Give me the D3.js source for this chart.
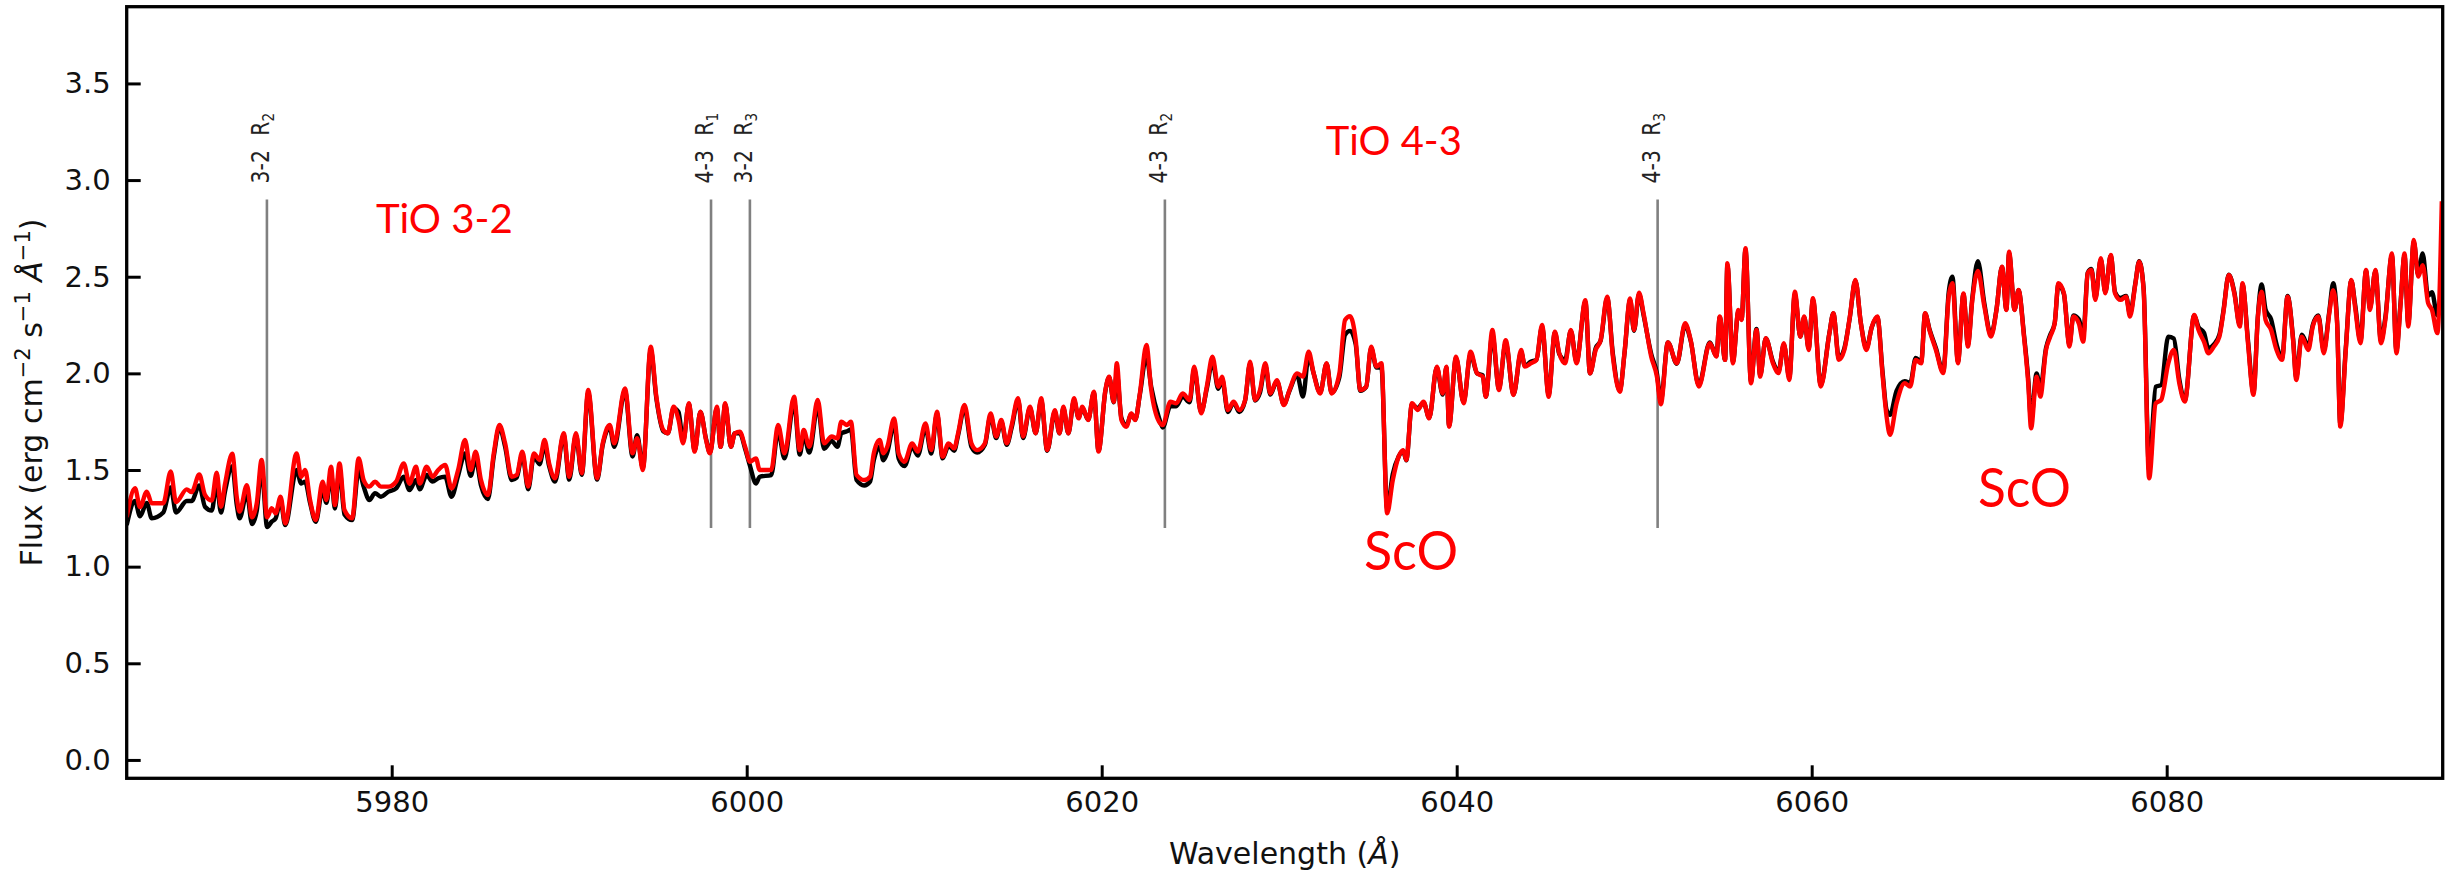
<!DOCTYPE html>
<html>
<head>
<meta charset="utf-8">
<script src="https://cdn.jsdelivr.net/npm/d3@7"></script>
<style>
  body { margin: 0; background: #ffffff; }
  svg { display: block; }
</style>
</head>
<body>
<div id="chart"></div>
<script>

// Spectrum at each local peak / dip (Angstrom)
const wavelength = [
  5965.07, 5965.54, 5965.82, 5966.20, 5966.48, 5967.13, 5967.55, 5967.85, 5968.45, 5968.73,
  5969.16, 5969.48, 5969.86, 5970.14, 5970.38, 5970.61, 5971.02, 5971.27, 5971.43, 5971.84,
  5972.13, 5972.40, 5972.67, 5972.98, 5973.24, 5973.46, 5973.74, 5974.00, 5974.64, 5974.90,
  5975.12, 5975.40, 5975.72, 5976.11, 5976.32, 5976.58, 5976.80, 5977.06, 5977.34, 5977.77,
  5978.14, 5978.42, 5978.74, 5979.06, 5979.39, 5979.82, 5980.25, 5980.68, 5981.00, 5981.37,
  5981.58, 5981.97, 5982.30, 5982.62, 5983.01, 5983.37, 5983.74, 5984.13, 5984.45, 5984.73,
  5985.03, 5985.42, 5985.75, 5986.07, 5986.39, 5986.76, 5987.04, 5987.36, 5987.69, 5988.01,
  5988.33, 5988.61, 5988.87, 5989.20, 5989.69, 5990.00, 5990.38, 5990.71, 5991.07, 5991.57,
  5991.89, 5992.28, 5992.54, 5993.14, 5993.57, 5993.83, 5994.15, 5994.59, 5994.91, 5995.30,
  5995.56, 5995.88, 5996.16, 5996.42, 5996.74, 5997.07, 5997.39, 5997.71, 5997.93, 5998.32,
  5998.53, 5998.79, 5999.11, 5999.33, 5999.61, 5999.91, 6000.19, 6000.52, 6000.73, 6001.38,
  6001.77, 6002.13, 6002.67, 6002.99, 6003.21, 6003.53, 6004.00, 6004.36, 6004.79, 6005.11,
  6005.33, 6005.65, 6005.87, 6006.19, 6006.62, 6006.95, 6007.16, 6007.49, 6007.70, 6007.92,
  6008.31, 6008.56, 6008.89, 6009.32, 6009.64, 6010.07, 6010.40, 6010.72, 6011.04, 6011.37,
  6011.69, 6011.91, 6012.27, 6012.66, 6012.98, 6013.42, 6013.74, 6014.06, 6014.34, 6014.65,
  6014.93, 6015.29, 6015.57, 6015.96, 6016.28, 6016.59, 6016.93, 6017.36, 6017.62, 6017.84,
  6018.12, 6018.44, 6018.70, 6018.91, 6019.24, 6019.56, 6019.82, 6020.21, 6020.42, 6020.68,
  6020.85, 6021.11, 6021.39, 6021.67, 6021.89, 6022.15, 6022.52, 6022.79, 6023.23, 6023.44,
  6023.87, 6024.20, 6024.56, 6024.95, 6025.21, 6025.60, 6025.92, 6026.24, 6026.57, 6026.78,
  6027.11, 6027.43, 6027.75, 6028.08, 6028.36, 6028.64, 6028.92, 6029.22, 6029.50, 6029.87,
  6030.26, 6030.58, 6031.01, 6031.34, 6031.66, 6031.94, 6032.31, 6032.67, 6032.95, 6033.39,
  6033.71, 6033.99, 6034.31, 6034.57, 6034.90, 6035.18, 6035.48, 6035.76, 6036.08, 6036.40,
  6036.73, 6036.99, 6037.16, 6037.48, 6037.81, 6038.13, 6038.45, 6038.88, 6039.21, 6039.42,
  6039.57, 6039.96, 6040.39, 6040.78, 6041.15, 6041.47, 6041.64, 6042.01, 6042.38, 6042.76,
  6043.20, 6043.63, 6043.84, 6044.17, 6044.49, 6044.81, 6045.18, 6045.53, 6045.78, 6046.11,
  6046.43, 6046.75, 6047.25, 6047.51, 6047.83, 6048.11, 6048.48, 6048.80, 6049.19, 6049.45,
  6049.77, 6049.99, 6050.27, 6050.53, 6050.96, 6051.28, 6051.50, 6051.90, 6052.40, 6052.87,
  6053.18, 6053.64, 6054.26, 6054.63, 6054.82, 6055.12, 6055.25, 6055.56, 6055.87, 6056.05,
  6056.27, 6056.58, 6056.89, 6057.10, 6057.41, 6057.82, 6058.13, 6058.43, 6058.74, 6059.05,
  6059.36, 6059.58, 6059.83, 6060.07, 6060.51, 6061.00, 6061.22, 6061.53, 6061.84, 6062.15,
  6062.46, 6062.77, 6063.08, 6063.39, 6063.70, 6064.00, 6064.22, 6064.41, 6064.78, 6065.24,
  6065.55, 6065.86, 6066.17, 6066.39, 6066.63, 6067.00, 6067.41, 6067.72, 6067.93, 6068.24,
  6068.55, 6068.80, 6069.05, 6069.36, 6069.73, 6070.10, 6070.41, 6070.72, 6070.97, 6071.12,
  6071.43, 6071.65, 6071.96, 6072.20, 6072.36, 6072.67, 6072.88, 6073.20, 6073.44, 6073.69,
  6073.90, 6074.21, 6074.52, 6074.74, 6075.05, 6075.30, 6075.55, 6075.76, 6075.98, 6076.29,
  6076.54, 6076.85, 6077.09, 6077.40, 6077.71, 6077.93, 6078.24, 6078.45, 6078.70, 6079.01,
  6079.38, 6079.69, 6080.09, 6080.40, 6080.71, 6081.02, 6081.55, 6081.79, 6082.10, 6082.35,
  6082.66, 6082.97, 6083.19, 6083.50, 6083.81, 6084.12, 6084.27, 6084.58, 6084.89, 6085.14,
  6085.35, 6085.57, 6085.88, 6086.19, 6086.50, 6086.81, 6087.12, 6087.30, 6087.61, 6087.98,
  6088.23, 6088.54, 6088.85, 6089.16, 6089.38, 6089.60, 6089.78, 6090.09, 6090.40, 6090.61,
  6090.92, 6091.23, 6091.45, 6091.76, 6092.07, 6092.32, 6092.69, 6092.94, 6093.18, 6093.40,
  6093.61, 6093.92, 6094.17, 6094.42, 6094.73, 6094.94, 6095.25, 6095.50
];

// Red spectrum (erg cm^-2 s^-1 A^-1)
const fluxRed = [
  1.256, 1.406, 1.308, 1.388, 1.328, 1.328, 1.492, 1.334, 1.400, 1.386,
  1.477, 1.371, 1.342, 1.486, 1.310, 1.428, 1.584, 1.360, 1.285, 1.422,
  1.255, 1.330, 1.552, 1.255, 1.302, 1.276, 1.362, 1.224, 1.586, 1.465,
  1.500, 1.345, 1.241, 1.440, 1.345, 1.517, 1.319, 1.534, 1.293, 1.250,
  1.560, 1.448, 1.414, 1.440, 1.414, 1.414, 1.440, 1.534, 1.430, 1.517,
  1.430, 1.517, 1.465, 1.500, 1.526, 1.405, 1.500, 1.655, 1.500, 1.595,
  1.448, 1.370, 1.586, 1.733, 1.638, 1.465, 1.474, 1.595, 1.414, 1.586,
  1.552, 1.655, 1.534, 1.457, 1.690, 1.465, 1.690, 1.483, 1.914, 1.457,
  1.638, 1.733, 1.638, 1.922, 1.586, 1.664, 1.500, 2.138, 1.879, 1.707,
  1.690, 1.827, 1.759, 1.638, 1.845, 1.595, 1.802, 1.655, 1.586, 1.827,
  1.620, 1.845, 1.620, 1.690, 1.698, 1.620, 1.543, 1.560, 1.500, 1.500,
  1.733, 1.586, 1.879, 1.603, 1.707, 1.620, 1.862, 1.638, 1.673, 1.664,
  1.750, 1.733, 1.750, 1.474, 1.448, 1.465, 1.586, 1.655, 1.586, 1.620,
  1.767, 1.586, 1.543, 1.638, 1.595, 1.741, 1.603, 1.802, 1.569, 1.638,
  1.612, 1.690, 1.836, 1.638, 1.603, 1.638, 1.793, 1.673, 1.759, 1.638,
  1.733, 1.871, 1.673, 1.827, 1.690, 1.871, 1.603, 1.810, 1.690, 1.827,
  1.690, 1.871, 1.767, 1.827, 1.759, 1.905, 1.595, 1.914, 1.983, 1.853,
  2.052, 1.759, 1.724, 1.793, 1.759, 1.896, 2.147, 1.914, 1.750, 1.733,
  1.853, 1.845, 1.896, 1.862, 2.035, 1.793, 1.931, 2.086, 1.931, 1.983,
  1.810, 1.853, 1.810, 1.862, 2.060, 1.862, 1.914, 2.052, 1.896, 1.965,
  1.836, 1.914, 2.000, 1.983, 2.112, 2.000, 1.896, 2.052, 1.896, 2.000,
  2.276, 2.296, 2.172, 1.914, 1.931, 2.138, 2.035, 2.052, 1.276, 1.448,
  1.569, 1.603, 1.552, 1.845, 1.810, 1.853, 1.767, 2.035, 1.896, 2.035,
  1.724, 2.086, 1.845, 2.112, 2.000, 1.983, 1.879, 2.224, 1.914, 2.172,
  1.888, 2.121, 2.035, 2.052, 2.069, 2.250, 1.879, 2.216, 2.103, 2.052,
  2.224, 2.052, 2.379, 2.000, 2.121, 2.172, 2.396, 2.086, 1.905, 2.103,
  2.388, 2.224, 2.417, 2.310, 2.086, 1.983, 1.840, 2.160, 2.052, 2.259,
  2.173, 1.932, 2.156, 2.087, 2.294, 2.070, 2.570, 2.052, 2.328, 2.276,
  2.647, 1.949, 2.225, 1.983, 2.182, 2.052, 2.001, 2.156, 1.966, 2.423,
  2.190, 2.294, 2.121, 2.389, 1.932, 2.208, 2.311, 2.070, 2.121, 2.294,
  2.483, 2.259, 2.121, 2.242, 2.294, 1.983, 1.776, 1.682, 1.845, 1.949,
  1.932, 2.070, 2.052, 2.311, 2.225, 2.121, 2.001, 2.397, 2.466, 2.052,
  2.414, 2.139, 2.380, 2.530, 2.345, 2.190, 2.328, 2.552, 2.328, 2.630,
  2.328, 2.432, 2.190, 1.949, 1.716, 1.983, 1.880, 2.121, 2.190, 2.259,
  2.466, 2.414, 2.139, 2.294, 2.259, 2.164, 2.518, 2.535, 2.380, 2.596,
  2.414, 2.613, 2.414, 2.380, 2.397, 2.294, 2.466, 2.578, 2.432, 1.457,
  1.845, 1.863, 2.052, 2.121, 1.949, 1.854, 2.302, 2.225, 2.164, 2.104,
  2.139, 2.190, 2.311, 2.509, 2.414, 2.242, 2.466, 2.156, 1.889, 2.294,
  2.423, 2.277, 2.225, 2.121, 2.070, 2.397, 2.173, 1.966, 2.190, 2.121,
  2.242, 2.294, 2.104, 2.311, 2.430, 2.259, 1.725, 2.121, 2.483, 2.345,
  2.156, 2.535, 2.328, 2.535, 2.156, 2.277, 2.621, 2.104, 2.363, 2.621,
  2.242, 2.690, 2.501, 2.560, 2.363, 2.330, 2.208, 2.890
];

// Black spectrum, same wavelength grid
const fluxBlack = [
  1.215, 1.340, 1.260, 1.330, 1.250, 1.280, 1.410, 1.280, 1.340, 1.340,
  1.420, 1.310, 1.290, 1.430, 1.280, 1.390, 1.520, 1.320, 1.250, 1.380,
  1.220, 1.290, 1.510, 1.205, 1.233, 1.250, 1.340, 1.215, 1.500, 1.430,
  1.440, 1.330, 1.232, 1.400, 1.330, 1.480, 1.300, 1.500, 1.270, 1.241,
  1.500, 1.414, 1.345, 1.380, 1.362, 1.388, 1.405, 1.465, 1.396, 1.448,
  1.400, 1.474, 1.440, 1.457, 1.465, 1.362, 1.470, 1.586, 1.470, 1.560,
  1.420, 1.350, 1.570, 1.720, 1.620, 1.448, 1.460, 1.580, 1.400, 1.570,
  1.530, 1.630, 1.520, 1.440, 1.680, 1.450, 1.680, 1.475, 1.900, 1.450,
  1.630, 1.720, 1.620, 1.910, 1.570, 1.680, 1.510, 2.120, 1.870, 1.700,
  1.690, 1.820, 1.800, 1.650, 1.840, 1.600, 1.800, 1.660, 1.590, 1.820,
  1.620, 1.840, 1.620, 1.690, 1.690, 1.610, 1.520, 1.430, 1.465, 1.474,
  1.700, 1.560, 1.850, 1.580, 1.680, 1.590, 1.830, 1.610, 1.650, 1.620,
  1.690, 1.700, 1.710, 1.448, 1.420, 1.440, 1.550, 1.620, 1.550, 1.590,
  1.740, 1.560, 1.520, 1.620, 1.575, 1.720, 1.585, 1.790, 1.560, 1.625,
  1.600, 1.680, 1.820, 1.620, 1.590, 1.630, 1.780, 1.665, 1.750, 1.630,
  1.720, 1.860, 1.665, 1.820, 1.690, 1.860, 1.600, 1.800, 1.690, 1.820,
  1.690, 1.860, 1.770, 1.820, 1.760, 1.900, 1.600, 1.910, 1.980, 1.850,
  2.000, 1.770, 1.730, 1.790, 1.760, 1.890, 2.090, 1.930, 1.770, 1.720,
  1.830, 1.830, 1.880, 1.850, 2.020, 1.800, 1.920, 2.060, 1.920, 1.970,
  1.800, 1.850, 1.800, 1.860, 2.050, 1.860, 1.900, 2.040, 1.890, 1.960,
  1.840, 1.910, 1.990, 1.880, 2.090, 2.000, 1.900, 2.050, 1.900, 1.980,
  2.200, 2.220, 2.150, 1.910, 1.930, 2.130, 2.030, 2.030, 1.300, 1.480,
  1.570, 1.600, 1.550, 1.840, 1.820, 1.850, 1.770, 2.030, 1.890, 2.030,
  1.730, 2.080, 1.850, 2.100, 2.000, 1.990, 1.880, 2.200, 1.920, 2.160,
  1.890, 2.110, 2.040, 2.060, 2.070, 2.240, 1.890, 2.210, 2.100, 2.070,
  2.220, 2.060, 2.370, 2.000, 2.130, 2.170, 2.390, 2.100, 1.910, 2.100,
  2.380, 2.220, 2.410, 2.300, 2.100, 2.000, 1.860, 2.160, 2.050, 2.250,
  2.170, 1.940, 2.160, 2.090, 2.290, 2.070, 2.560, 2.060, 2.320, 2.280,
  2.640, 1.960, 2.230, 1.990, 2.180, 2.060, 2.010, 2.150, 1.980, 2.410,
  2.190, 2.290, 2.130, 2.380, 1.940, 2.210, 2.310, 2.080, 2.130, 2.290,
  2.480, 2.260, 2.130, 2.240, 2.290, 2.000, 1.810, 1.785, 1.910, 1.960,
  1.950, 2.080, 2.060, 2.310, 2.230, 2.130, 2.010, 2.420, 2.500, 2.060,
  2.410, 2.150, 2.390, 2.580, 2.360, 2.200, 2.330, 2.550, 2.330, 2.620,
  2.330, 2.430, 2.200, 1.970, 1.760, 2.000, 1.920, 2.130, 2.200, 2.260,
  2.460, 2.410, 2.150, 2.300, 2.280, 2.200, 2.520, 2.540, 2.390, 2.590,
  2.420, 2.610, 2.420, 2.390, 2.400, 2.310, 2.470, 2.580, 2.440, 1.500,
  1.930, 1.940, 2.190, 2.180, 1.970, 1.860, 2.300, 2.240, 2.210, 2.130,
  2.150, 2.200, 2.320, 2.510, 2.420, 2.250, 2.460, 2.170, 1.900, 2.300,
  2.460, 2.330, 2.280, 2.150, 2.080, 2.400, 2.180, 1.980, 2.200, 2.140,
  2.250, 2.300, 2.120, 2.320, 2.466, 2.270, 1.740, 2.130, 2.480, 2.360,
  2.170, 2.530, 2.340, 2.530, 2.170, 2.290, 2.610, 2.120, 2.370, 2.610,
  2.260, 2.680, 2.510, 2.620, 2.400, 2.420, 2.300, 2.450
];

// TiO band heads marked with grey lines
const bandWavelength = [5972.97, 5997.99, 6000.18, 6023.56, 6051.32];
const bandName = ['3-2', '4-3', '3-2', '4-3', '4-3'];
const bandBranch = ['2', '1', '3', '2', '3'];
const bandFlux = [1.2, 2.9];

// Axis ticks and limits
const xTicks = [5980, 6000, 6020, 6040, 6060, 6080];
const yTicks = [0.0, 0.5, 1.0, 1.5, 2.0, 2.5, 3.0, 3.5];
const xLimits = [5965.07, 6095.55];
const yLimits = [-0.095, 3.897];

// Red annotations: text and where its baseline starts (data coords)
const noteText = ['TiO 3-2', 'TiO 4-3', 'ScO', 'ScO'];
const noteWavelength = [5979.11, 6032.63, 6034.78, 6069.37];
const noteFlux = [2.725, 3.130, 0.983, 1.310];

const dims = {
  width: 2461,
  height: 872,
  margin: {left: 126.7, top: 6.7, right: 18.3, bottom: 93.7}
};
dims.boundedWidth = dims.width - dims.margin.left - dims.margin.right;
dims.boundedHeight = dims.height - dims.margin.top - dims.margin.bottom;

const svgRoot = d3.select('#chart')
  .append('svg')
    .attr('width', dims.width)
    .attr('height', dims.height);

const svg = svgRoot.append('g')
  .attr('transform', `translate(${dims.margin.left},${dims.margin.top})`);

const xScale = d3.scaleLinear().domain(xLimits).range([0, dims.boundedWidth]);
const yScale = d3.scaleLinear().domain(yLimits).range([dims.boundedHeight, 0]);

// Clip so the lines stay inside the frame
svg.append('clipPath')
    .attr('id', 'plot-clip')
  .append('rect')
    .attr('width', dims.boundedWidth)
    .attr('height', dims.boundedHeight);

// Grey band-head markers
svg.append('g')
  .selectAll('line')
  .data(bandWavelength)
  .join('line')
    .attr('x1', d => xScale(d))
    .attr('x2', d => xScale(d))
    .attr('y1', yScale(bandFlux[0]))
    .attr('y2', yScale(bandFlux[1]))
    .attr('stroke', '#808080')
    .attr('stroke-width', 2.6);

// Band labels, rotated, like "3-2  R2"
bandWavelength.forEach((w, i) => {
  const label = svg.append('text')
    .attr('transform', `translate(${xScale(w) + 2},${yScale(bandFlux[1]) - 16}) rotate(-90) scale(0.85,1)`)
    .attr('font-family', 'DejaVu Sans, sans-serif')
    .attr('font-size', 24)
    .attr('fill', '#222');
  label.append('tspan').text(bandName[i]);
  label.append('tspan').attr('dx', 17).text('R');
  label.append('tspan').attr('dy', 5).attr('font-size', 16).text(bandBranch[i]);
});

// Spectra: black first, red on top
const lineGen = (values) => d3.line()
  .x((d, i) => xScale(wavelength[i]))
  .y(d => yScale(d))
  .curve(d3.curveMonotoneX)(values);

const plotLines = svg.append('g').attr('clip-path', 'url(#plot-clip)');
plotLines.append('path')
  .attr('d', lineGen(fluxBlack))
  .attr('fill', 'none')
  .attr('stroke', '#000000')
  .attr('stroke-width', 4.4)
  .attr('stroke-linejoin', 'round');
plotLines.append('path')
  .attr('d', lineGen(fluxRed))
  .attr('fill', 'none')
  .attr('stroke', '#ff0000')
  .attr('stroke-width', 4.4)
  .attr('stroke-linejoin', 'round');

// Axes with inward ticks
const xAxis = d3.axisBottom(xScale)
  .tickValues(xTicks)
  .tickFormat(d3.format('d'))
  .tickSizeInner(-13)
  .tickSizeOuter(0)
  .tickPadding(13);
const yAxis = d3.axisLeft(yScale)
  .tickValues(yTicks)
  .tickFormat(d3.format('.1f'))
  .tickSizeInner(-14)
  .tickSizeOuter(0)
  .tickPadding(16);

const styleAxis = (g) => {
  g.select('.domain').remove();
  g.selectAll('.tick line').attr('stroke', '#000').attr('stroke-width', 3);
  g.selectAll('.tick text')
    .attr('font-family', 'DejaVu Sans, sans-serif')
    .attr('font-size', 29)
    .attr('fill', '#111');
};

svg.append('g')
  .attr('transform', `translate(0,${dims.boundedHeight})`)
  .call(xAxis)
  .call(styleAxis);
svg.append('g')
  .call(yAxis)
  .call(styleAxis);

// Frame
svg.append('rect')
  .attr('width', dims.boundedWidth)
  .attr('height', dims.boundedHeight)
  .attr('fill', 'none')
  .attr('stroke', '#000')
  .attr('stroke-width', 3.3);

// Axis labels
const xLabel = svgRoot.append('text')
  .attr('x', dims.margin.left + dims.boundedWidth / 2)
  .attr('y', 864)
  .attr('text-anchor', 'middle')
  .attr('font-family', 'DejaVu Sans, sans-serif')
  .attr('font-size', 30)
  .attr('fill', '#111');
xLabel.append('tspan').text('Wavelength (');
xLabel.append('tspan').attr('font-style', 'italic').text('Å');
xLabel.append('tspan').text(')');

const yLabel = svgRoot.append('text')
  .attr('transform', `translate(42,${dims.margin.top + dims.boundedHeight / 2}) rotate(-90)`)
  .attr('text-anchor', 'middle')
  .attr('font-family', 'DejaVu Sans, sans-serif')
  .attr('font-size', 30)
  .attr('fill', '#111');
yLabel.append('tspan').text('Flux (erg cm');
yLabel.append('tspan').attr('dy', -12).attr('font-size', 21).text('−2');
yLabel.append('tspan').attr('dy', 12).text(' s');
yLabel.append('tspan').attr('dy', -12).attr('font-size', 21).text('−1');
yLabel.append('tspan').attr('dy', 12).text(' ');
yLabel.append('tspan').attr('font-style', 'italic').text('Å');
yLabel.append('tspan').attr('dy', -12).attr('font-size', 21).text('−1');
yLabel.append('tspan').attr('dy', 12).text(')');

// Red annotations
const noteSize = [40.5, 40.5, 55, 55];
const noteWidth = [137, 136, 94, 93];
noteText.forEach((t, i) => {
  svg.append('text')
    .attr('x', xScale(noteWavelength[i]))
    .attr('y', yScale(noteFlux[i]))
    .attr('font-family', 'Lato, Open Sans, sans-serif')
    .attr('font-size', noteSize[i])
    .attr('textLength', noteWidth[i])
    .attr('lengthAdjust', 'spacingAndGlyphs')
    .attr('fill', '#ff0000')
    .text(t);
});

</script>
</body>
</html>
